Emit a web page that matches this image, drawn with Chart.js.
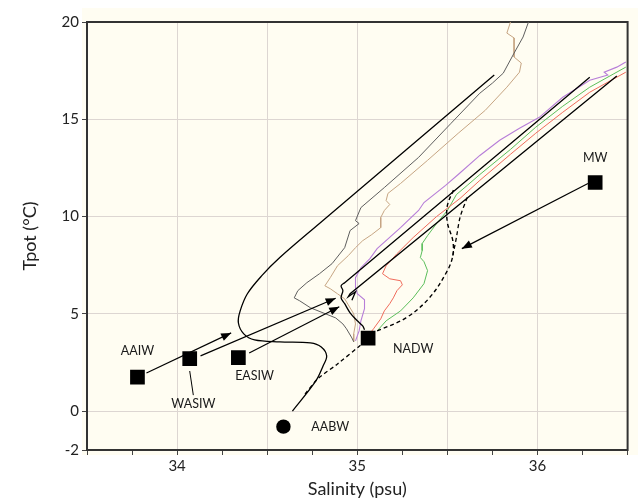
<!DOCTYPE html>
<html>
<head>
<meta charset="utf-8">
<script src="https://cdn.jsdelivr.net/npm/chart.js@4.4.0/dist/chart.umd.min.js"></script>
<style>
  html, body { margin: 0; padding: 0; background: #fff; }
</style>
</head>
<body>
<canvas id="tsChart" width="638" height="500"></canvas>
<script>
// Axis ranges and ticks
const salinityMin = 33.5;
const salinityMax = 36.5;
const tempTicks = [-2, 0, 5, 10, 15, 20];

// Measured profiles [salinity, tpot]
const greyProfile = [[35.95,20.0],[35.92,19.23],[35.87,18.40],[35.81,17.37],[35.75,16.86],[35.68,16.34],[35.52,14.79],[35.34,13.04],[35.15,11.49],[35.02,10.46],[34.99,9.79],[35.01,9.64],[34.96,9.28],[34.93,8.40],[34.86,7.58],[34.79,7.06],[34.72,6.60],[34.67,6.19],[34.65,5.82],[34.68,5.67],[34.74,5.31],[34.81,5.05],[34.88,4.79],[34.92,4.48],[34.94,4.23],[34.97,3.76],[34.98,3.56]];
const tanProfile = [[35.85,20.0],[35.83,19.43],[35.87,19.18],[35.87,18.20],[35.91,17.89],[35.90,17.42],[35.83,16.65],[35.71,15.46],[35.56,14.28],[35.39,12.89],[35.24,11.70],[35.17,11.19],[35.16,10.82],[35.18,10.62],[35.15,10.31],[35.13,9.95],[35.13,9.43],[35.08,9.07],[35.03,8.76],[34.99,8.40],[34.95,7.99],[34.89,7.47],[34.85,6.86],[34.82,6.44],[34.85,6.29],[34.89,6.03],[34.93,5.77],[34.95,5.46],[34.98,5.00],[34.99,4.48],[34.98,3.97],[34.98,3.56]];
const purpleProfile = [[36.49,17.94],[36.44,17.68],[36.37,17.42],[36.39,17.27],[36.29,17.01],[36.14,16.13],[36.01,15.10],[35.90,14.54],[35.79,13.92],[35.68,13.14],[35.56,12.16],[35.49,11.60],[35.37,10.72],[35.34,10.31],[35.24,9.43],[35.11,8.35],[35.07,7.84],[35.02,7.37],[34.99,6.86],[34.99,6.34],[35.00,6.03],[35.04,5.72],[35.04,5.26],[35.02,4.64],[35.01,4.12],[34.99,3.61]];
const redProfile = [[36.49,17.42],[36.42,17.06],[36.29,16.39],[36.14,15.36],[35.99,14.28],[35.85,13.20],[35.68,11.86],[35.57,10.93],[35.44,10.00],[35.31,8.92],[35.22,8.09],[35.16,7.47],[35.14,7.06],[35.18,6.80],[35.24,6.70],[35.25,6.49],[35.22,6.19],[35.20,5.82],[35.18,5.52],[35.15,5.15],[35.13,4.74],[35.09,4.23],[35.06,3.87]];
const greenProfile = [[36.49,17.68],[36.42,17.32],[36.29,16.65],[36.14,15.67],[35.99,14.59],[35.85,13.45],[35.68,12.16],[35.61,11.60],[35.55,11.13],[35.50,10.31],[35.44,9.64],[35.39,9.02],[35.36,8.61],[35.36,8.25],[35.35,7.89],[35.37,7.68],[35.39,7.22],[35.37,6.55],[35.31,5.82],[35.24,5.15],[35.16,4.64],[35.11,4.12]];

// Mixing lines drawn in black
const upperEnvelope = [[35.76,17.27],[34.79,9.64],[34.57,7.89],[34.47,6.96],[34.39,6.03],[34.35,5.15],[34.34,4.54],[34.37,3.97],[34.43,3.66],[34.57,3.56],[34.74,3.51],[34.80,3.30],[34.83,2.84],[34.81,2.32],[34.77,1.55],[34.64,0.0]];
const nadwLineUpper = [[36.29,17.16],[34.93,6.60],[34.91,6.44],[34.92,6.19],[34.91,5.82],[34.93,5.52],[34.96,5.05],[35.00,4.64],[35.03,4.38],[35.04,4.18]];
const nadwLineLower = [[36.44,17.22],[34.96,6.03],[34.95,5.88],[34.99,6.13],[34.97,5.70]];
const dashedLower = [[34.71,0.88],[34.78,1.65],[34.89,2.42],[35.02,3.40]];
const dashedUpperLeft = [[35.11,4.12],[35.27,4.79],[35.40,5.82],[35.50,7.22],[35.53,7.99],[35.53,8.76],[35.50,9.69],[35.50,10.57],[35.54,11.49]];
const dashedUpperRight = [[35.53,7.99],[35.55,8.92],[35.57,9.95],[35.61,10.98]];

// Arrows [from, to]
const arrowAAIW = [[33.83,1.96],[34.30,4.02]];
const arrowWASIW = [[34.13,2.84],[34.88,5.80]];
const arrowEASIW = [[34.40,2.99],[34.90,5.36]];
const arrowMW = [[36.28,11.70],[35.58,8.35]];
const leaderWASIW = [[34.07,2.06],[34.09,0.82]];

// Source water masses
const massSalinity = [33.78, 34.07, 34.34, 35.06, 36.32];
const massTemp = [1.75, 2.70, 2.75, 3.75, 11.75];
const aabwSalinity = [34.59];
const aabwTemp = [-0.80];

// Labels
const labelText = ['AAIW', 'WASIW', 'EASIW', 'NADW', 'MW', 'AABW'];
const labelSalinity = [33.78, 34.09, 34.43, 35.31, 36.32, 34.85];
const labelTemp = [3.09, 0.36, 1.80, 3.20, 12.99, -0.82];

const FONT = 'Lato, "Open Sans", sans-serif';
Chart.defaults.font.family = FONT;
Chart.defaults.color = '#222';

const pts = arr => arr.map(p => ({ x: p[0], y: p[1] }));

function lineSet(data, color, width, extra) {
    return Object.assign({
        data: pts(data),
        borderColor: color,
        backgroundColor: color,
        borderWidth: width,
        showLine: true,
        pointRadius: 0,
        pointHoverRadius: 0,
        tension: 0,
        fill: false
    }, extra || {});
}

// Cream plot background + frame
const backdrop = {
    id: 'backdrop',
    beforeDraw(chart) {
        const { ctx, chartArea: a } = chart;
        ctx.save();
        ctx.fillStyle = '#ffffff';
        ctx.fillRect(0, 0, chart.width, chart.height);
        ctx.fillStyle = '#fffdf2';
        ctx.fillRect(a.left - 5, a.top - 14, chart.width - a.left + 5, a.bottom - a.top + 19);
        ctx.restore();
    },
    beforeDatasetsDraw(chart) {
        const { ctx, chartArea: a } = chart;
        ctx.save();
        ctx.strokeStyle = '#333';
        ctx.lineWidth = 2;
        ctx.strokeRect(a.left, a.top, a.right - a.left, a.bottom - a.top);
        ctx.restore();
    }
};

// Arrowheads on datasets flagged with arrow: true, and text labels
const annotations = {
    id: 'annotations',
    afterDatasetsDraw(chart) {
        const ctx = chart.ctx;
        ctx.save();
        chart.data.datasets.forEach((ds, i) => {
            if (!ds.arrow) return;
            const pts = chart.getDatasetMeta(i).data;
            const a = pts[pts.length - 2], b = pts[pts.length - 1];
            const ang = Math.atan2(b.y - a.y, b.x - a.x);
            const len = 10, half = 4;
            ctx.fillStyle = '#000';
            ctx.beginPath();
            ctx.moveTo(b.x, b.y);
            ctx.lineTo(b.x - len * Math.cos(ang) + half * Math.sin(ang), b.y - len * Math.sin(ang) - half * Math.cos(ang));
            ctx.lineTo(b.x - len * Math.cos(ang) - half * Math.sin(ang), b.y - len * Math.sin(ang) + half * Math.cos(ang));
            ctx.closePath();
            ctx.fill();
        });
        const xs = chart.scales.x, ys = chart.scales.y;
        ctx.fillStyle = '#1a1a1a';
        ctx.font = '12.5px ' + FONT;
        ctx.textAlign = 'center';
        ctx.textBaseline = 'middle';
        labelText.forEach((t, i) => {
            ctx.fillText(t, xs.getPixelForValue(labelSalinity[i]), ys.getPixelForValue(labelTemp[i]));
        });
        ctx.restore();
    }
};

const gridColor = '#ddd6d2';

new Chart(document.getElementById('tsChart'), {
    type: 'scatter',
    data: {
        datasets: [
            { data: massSalinity.map((s, i) => ({ x: s, y: massTemp[i] })), pointStyle: 'rect', pointRadius: 10.4, pointHoverRadius: 10.4, backgroundColor: '#000', borderColor: '#000', borderWidth: 0 },
            { data: aabwSalinity.map((s, i) => ({ x: s, y: aabwTemp[i] })), pointStyle: 'circle', pointRadius: 7.2, pointHoverRadius: 7.2, backgroundColor: '#000', borderColor: '#000', borderWidth: 0 },
            lineSet(arrowAAIW, '#000', 1.2, { arrow: true }),
            lineSet(arrowWASIW, '#000', 1.2, { arrow: true }),
            lineSet(arrowEASIW, '#000', 1.2, { arrow: true }),
            lineSet(arrowMW, '#000', 1.2, { arrow: true }),
            lineSet(leaderWASIW, '#000', 1),
            lineSet(upperEnvelope, '#000', 1.3, { tension: 0.35 }),
            lineSet(nadwLineUpper, '#000', 1.3, { tension: 0.3 }),
            lineSet(nadwLineLower, '#000', 1.3),
            lineSet(dashedLower, '#000', 1.3, { borderDash: [4, 3], tension: 0.3 }),
            lineSet(dashedUpperLeft, '#000', 1.4, { borderDash: [4, 3], tension: 0.35 }),
            lineSet(dashedUpperRight, '#000', 1.3, { borderDash: [4, 3], tension: 0.3 }),
            lineSet(greyProfile, '#5e5e5e', 1),
            lineSet(tanProfile, '#c6a583', 1),
            lineSet(purpleProfile, '#b77ed8', 1.1),
            lineSet(redProfile, '#f06c5c', 1),
            lineSet(greenProfile, '#5cbf5c', 1)
        ]
    },
    options: {
        responsive: false,
        animation: false,
        events: [],
        layout: { padding: { top: 22, right: 10, left: 0, bottom: 0 } },
        plugins: {
            legend: { display: false },
            tooltip: { enabled: false }
        },
        scales: {
            x: {
                type: 'linear',
                min: salinityMin,
                max: salinityMax,
                border: { display: false },
                grid: {
                    color: c => (Math.abs(c.tick.value * 2 - Math.round(c.tick.value * 2)) < 1e-6 ? gridColor : 'rgba(0,0,0,0)'),
                    tickColor: '#444',
                    tickLength: 5,
                    lineWidth: 1
                },
                ticks: {
                    stepSize: 0.25,
                    autoSkip: false,
                    maxRotation: 0,
                    padding: 2,
                    font: { size: 15 },
                    callback: v => (Number.isInteger(v) ? String(v) : '')
                },
                title: { display: true, text: 'Salinity (psu)', font: { size: 18 }, padding: { top: 0, bottom: 0 } },
                afterFit: s => { s.height = 50; }
            },
            y: {
                type: 'linear',
                min: -2,
                max: 20,
                border: { display: false },
                afterBuildTicks: s => { s.ticks = tempTicks.map(v => ({ value: v })); },
                grid: { color: gridColor, tickColor: '#444', tickLength: 5 },
                ticks: { padding: 3, font: { size: 15 } },
                title: { display: true, text: 'Tpot (°C)', font: { size: 18 }, padding: { top: 19, bottom: 0 } },
                afterFit: s => { s.width = 87; }
            }
        }
    },
    plugins: [backdrop, annotations]
});
</script>
</body>
</html>
